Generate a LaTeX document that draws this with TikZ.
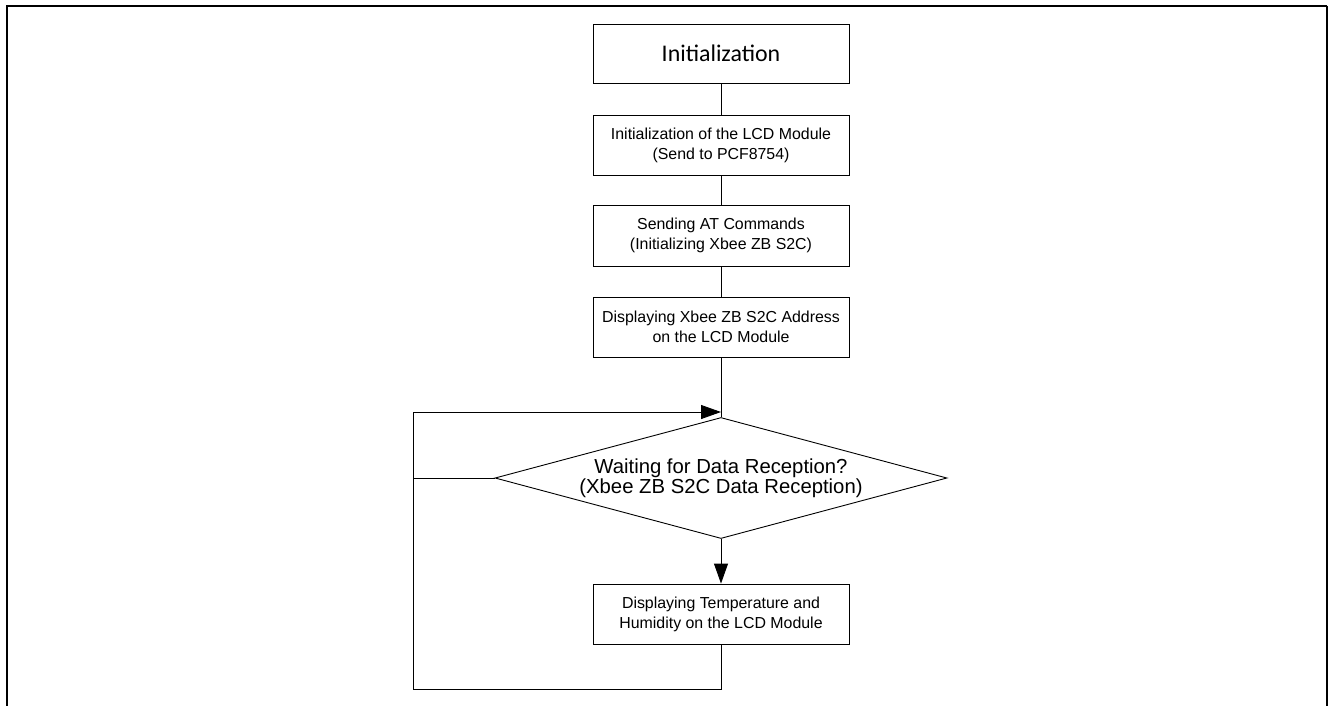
\documentclass[tikz,border=0pt]{standalone}
\usepackage{fontspec}
\setmainfont{Liberation Sans}
\newfontfamily\titlefont{Carlito}
\usepackage{tikz}
\usetikzlibrary{shapes.geometric,arrows.meta}

\begin{document}
\begin{tikzpicture}[x=1pt, y=-1pt, line width=0.9pt,
    stepbox/.style={rectangle, draw, minimum width=256pt, minimum height=60pt, align=center,
        inner sep=0pt, font=\fontsize{15.9}{20}\selectfont},
    decision/.style={diamond, draw, minimum width=452pt, minimum height=121pt, aspect=3.74,
        inner sep=0pt, align=center, font=\fontsize{20.3}{20.5}\selectfont},
    tip/.style={-{Triangle[length=20pt,width=14pt]}}]

    \useasboundingbox (0,0) rectangle (1328,705);

    % page frame
    \draw[line width=2.2pt] (6.8,715) -- (6.8,5.7) -- (1326.8,5.7);
    \draw[line width=1.5pt] (1326.8,5.7) -- (1326.8,715);

    \node[stepbox, minimum height=59pt, font=\titlefont\fontsize{23.9}{28}\selectfont] (init) at (721,53.5) {Initialization};

    \node[stepbox] (lcd) at (721,145) {
        Initialization of the LCD Module\\
        (Send to PCF8754)
    };

    \node[stepbox, minimum height=61pt] (atcmd) at (721,235.5) {
        Sending AT Commands\\
        (Initializing Xbee ZB S2C)
    };

    \node[stepbox] (addr) at (721,327) {
        Displaying Xbee ZB S2C Address\\
        on the LCD Module
    };

    \coordinate (merge) at (721,412);

    \node[decision] (wait) at (721,478) {
        Waiting for Data Reception?\\
        (Xbee ZB S2C Data Reception)
    };

    \node[stepbox] (show) at (721,614) {
        Displaying Temperature and\\
        Humidity on the LCD Module
    };

    \coordinate (loopbot) at (721,689);
    \coordinate (loopleft) at (413,689);
    \coordinate (join) at (413,478);

    \draw (init) -- (lcd);
    \draw (lcd) -- (atcmd);
    \draw (atcmd) -- (addr);
    \draw (addr) -- (wait);
    \draw[tip] (wait) -- (show);
    \draw (wait.west) -- (join);
    \draw[tip] (show.south) -- (loopbot) -- (loopleft) |- (merge);

\end{tikzpicture}
\end{document}
